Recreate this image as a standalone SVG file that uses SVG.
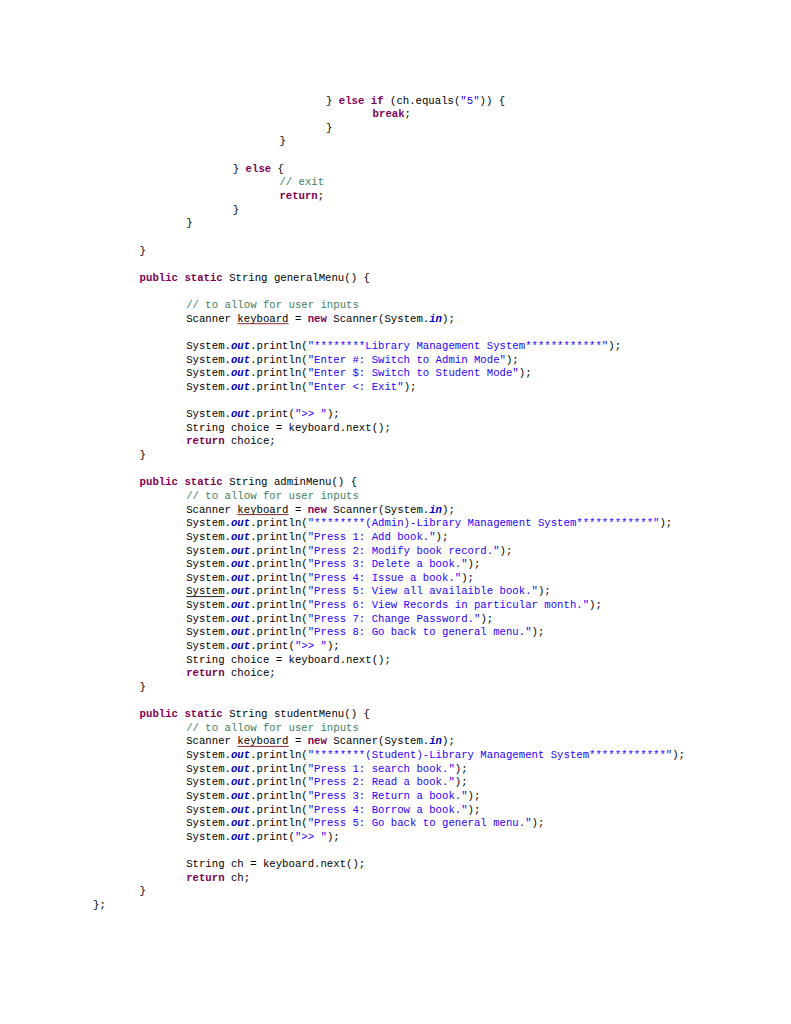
<svg xmlns="http://www.w3.org/2000/svg" width="791" height="1024" viewBox="0 0 791 1024">
<style>
text{font-family:"Liberation Mono","DejaVu Sans Mono",monospace;font-size:10.67px;fill:#000;white-space:pre}
.k{fill:#7f0055;font-weight:bold}
.c{fill:#3f7f5f}
.s{fill:#2a00ff}
.f{fill:#0000c0;font-weight:bold;font-style:italic}
.u{stroke:#8b2a2a;stroke-width:1}
.u2{stroke:#222;stroke-width:1}
</style>
<rect width="791" height="1024" fill="#fff"/>
<g id="tail">
<text x="326" y="103.5" xml:space="preserve">} <tspan class="k">else</tspan> <tspan class="k">if</tspan> (ch.equals(<tspan class="s">"5"</tspan>)) {</text>
<text x="372.6" y="117.1" xml:space="preserve"><tspan class="k">break</tspan>;</text>
<text x="326" y="130.8">}</text>
<text x="279.4" y="144.4">}</text>
<text x="232.8" y="171.7" xml:space="preserve">} <tspan class="k">else</tspan> {</text>
<text x="279.4" y="185.3" class="c" xml:space="preserve">// exit</text>
<text x="279.4" y="199.0" xml:space="preserve"><tspan class="k">return</tspan>;</text>
<text x="232.8" y="212.6">}</text>
<text x="186.2" y="226.2">}</text>
<text x="139.6" y="253.5">}</text>
</g>
<g id="generalMenu">
<text x="139.6" y="280.8" xml:space="preserve"><tspan class="k">public</tspan> <tspan class="k">static</tspan> String generalMenu() {</text>
<text x="186.2" y="308.0" class="c" xml:space="preserve">// to allow for user inputs</text>
<text x="186.2" y="321.7" xml:space="preserve">Scanner keyboard = <tspan class="k">new</tspan> Scanner(System.<tspan class="f">in</tspan>);</text>
<line class="u" x1="237.4" y1="323.7" x2="288.6" y2="323.7"/>
<text x="186.2" y="348.9" xml:space="preserve">System.<tspan class="f">out</tspan>.println(<tspan class="s">"********Library Management System************"</tspan>);</text>
<text x="186.2" y="362.6" xml:space="preserve">System.<tspan class="f">out</tspan>.println(<tspan class="s">"Enter #: Switch to Admin Mode"</tspan>);</text>
<text x="186.2" y="376.2" xml:space="preserve">System.<tspan class="f">out</tspan>.println(<tspan class="s">"Enter $: Switch to Student Mode"</tspan>);</text>
<text x="186.2" y="389.9" xml:space="preserve">System.<tspan class="f">out</tspan>.println(<tspan class="s">"Enter &lt;: Exit"</tspan>);</text>
<text x="186.2" y="417.1" xml:space="preserve">System.<tspan class="f">out</tspan>.print(<tspan class="s">"&gt;&gt; "</tspan>);</text>
<text x="186.2" y="430.8" xml:space="preserve">String choice = keyboard.next();</text>
<text x="186.2" y="444.4" xml:space="preserve"><tspan class="k">return</tspan> choice;</text>
<text x="139.6" y="458.0">}</text>
</g>
<g id="adminMenu">
<text x="139.6" y="485.3" xml:space="preserve"><tspan class="k">public</tspan> <tspan class="k">static</tspan> String adminMenu() {</text>
<text x="186.2" y="498.9" class="c" xml:space="preserve">// to allow for user inputs</text>
<text x="186.2" y="512.6" xml:space="preserve">Scanner keyboard = <tspan class="k">new</tspan> Scanner(System.<tspan class="f">in</tspan>);</text>
<line class="u" x1="237.4" y1="514.6" x2="288.6" y2="514.6"/>
<text x="186.2" y="526.2" xml:space="preserve">System.<tspan class="f">out</tspan>.println(<tspan class="s">"********(Admin)-Library Management System************"</tspan>);</text>
<text x="186.2" y="539.9" xml:space="preserve">System.<tspan class="f">out</tspan>.println(<tspan class="s">"Press 1: Add book."</tspan>);</text>
<text x="186.2" y="553.5" xml:space="preserve">System.<tspan class="f">out</tspan>.println(<tspan class="s">"Press 2: Modify book record."</tspan>);</text>
<text x="186.2" y="567.1" xml:space="preserve">System.<tspan class="f">out</tspan>.println(<tspan class="s">"Press 3: Delete a book."</tspan>);</text>
<text x="186.2" y="580.8" xml:space="preserve">System.<tspan class="f">out</tspan>.println(<tspan class="s">"Press 4: Issue a book."</tspan>);</text>
<text x="186.2" y="594.4" xml:space="preserve">System.<tspan class="f">out</tspan>.println(<tspan class="s">"Press 5: View all availaible book."</tspan>);</text>
<line class="u2" x1="186.2" y1="596.6" x2="224.6" y2="596.6"/>
<text x="186.2" y="608.1" xml:space="preserve">System.<tspan class="f">out</tspan>.println(<tspan class="s">"Press 6: View Records in particular month."</tspan>);</text>
<text x="186.2" y="621.7" xml:space="preserve">System.<tspan class="f">out</tspan>.println(<tspan class="s">"Press 7: Change Password."</tspan>);</text>
<text x="186.2" y="635.4" xml:space="preserve">System.<tspan class="f">out</tspan>.println(<tspan class="s">"Press 8: Go back to general menu."</tspan>);</text>
<text x="186.2" y="649.0" xml:space="preserve">System.<tspan class="f">out</tspan>.print(<tspan class="s">"&gt;&gt; "</tspan>);</text>
<text x="186.2" y="662.6" xml:space="preserve">String choice = keyboard.next();</text>
<text x="186.2" y="676.3" xml:space="preserve"><tspan class="k">return</tspan> choice;</text>
<text x="139.6" y="689.9">}</text>
</g>
<g id="studentMenu">
<text x="139.6" y="717.1" xml:space="preserve"><tspan class="k">public</tspan> <tspan class="k">static</tspan> String studentMenu() {</text>
<text x="186.2" y="730.8" class="c" xml:space="preserve">// to allow for user inputs</text>
<text x="186.2" y="744.4" xml:space="preserve">Scanner keyboard = <tspan class="k">new</tspan> Scanner(System.<tspan class="f">in</tspan>);</text>
<line class="u" x1="237.4" y1="746.4" x2="288.6" y2="746.4"/>
<text x="186.2" y="758.1" xml:space="preserve">System.<tspan class="f">out</tspan>.println(<tspan class="s">"********(Student)-Library Management System************"</tspan>);</text>
<text x="186.2" y="771.7" xml:space="preserve">System.<tspan class="f">out</tspan>.println(<tspan class="s">"Press 1: search book."</tspan>);</text>
<text x="186.2" y="785.3" xml:space="preserve">System.<tspan class="f">out</tspan>.println(<tspan class="s">"Press 2: Read a book."</tspan>);</text>
<text x="186.2" y="799.0" xml:space="preserve">System.<tspan class="f">out</tspan>.println(<tspan class="s">"Press 3: Return a book."</tspan>);</text>
<text x="186.2" y="812.6" xml:space="preserve">System.<tspan class="f">out</tspan>.println(<tspan class="s">"Press 4: Borrow a book."</tspan>);</text>
<text x="186.2" y="826.3" xml:space="preserve">System.<tspan class="f">out</tspan>.println(<tspan class="s">"Press 5: Go back to general menu."</tspan>);</text>
<text x="186.2" y="839.9" xml:space="preserve">System.<tspan class="f">out</tspan>.print(<tspan class="s">"&gt;&gt; "</tspan>);</text>
<text x="186.2" y="867.1" xml:space="preserve">String ch = keyboard.next();</text>
<text x="186.2" y="880.8" xml:space="preserve"><tspan class="k">return</tspan> ch;</text>
<text x="139.6" y="894.4">}</text>
<text x="93" y="908.1">};</text>
</g>
</svg>
